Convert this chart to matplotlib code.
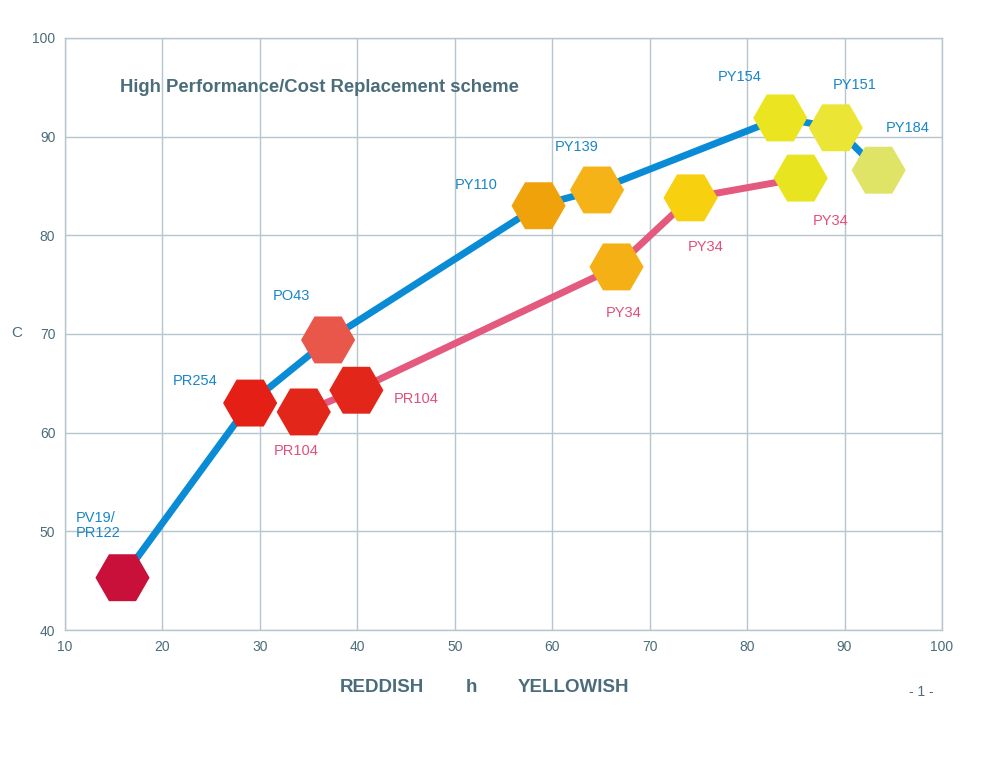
import numpy as np
import matplotlib
matplotlib.use("Agg")
import matplotlib.pyplot as plt

plt.rcParams['font.family'] = ['Liberation Sans', 'DejaVu Sans']

# blue curve (high performance pigments)
blue_names = ["PV19/\nPR122", "PR254", "PO43", "PY110", "PY139", "PY154", "PY151", "PY184"]
blue_h = [15.9, 29.0, 37.0, 58.6, 64.6, 83.4, 89.1, 93.5]
blue_c = [45.3, 63.0, 69.4, 83.0, 84.6, 91.9, 90.9, 86.6]
blue_fill = ["#c8103a", "#e42016", "#e8574a", "#f0a20a", "#f5b318", "#ebe521", "#ebe535", "#e0e466"]

# pink curve (cost replacement pigments)
pink_names = ["PR104", "PR104", "PY34", "PY34", "PY34"]
pink_h = [34.5, 39.9, 66.6, 74.2, 85.5]
pink_c = [62.1, 64.3, 76.8, 83.8, 85.8]
pink_fill = ["#e2271a", "#e2271a", "#f5b015", "#f7d010", "#e8e420"]

x_ticks = list(range(10, 101, 10))
y_ticks = list(range(40, 101, 10))

# label placement (data coords)
blue_lab_xy = [(11.1, 50.6), (21.1, 65.2), (31.3, 73.9), (50.0, 85.1),
               (60.3, 89.0), (77.0, 96.0), (88.8, 95.2), (94.2, 90.9)]
pink_lab_xy = [(31.4, 58.1), (43.7, 63.4), (65.5, 72.1), (73.9, 78.8), (86.7, 81.5)]

BLUE = "#0a8bd6"
PINK = "#e45a7e"
BLUE_TXT = "#1a86c8"
PINK_TXT = "#e2507a"
GRID = "#b7c6cc"
TXT = "#4a6d79"

fig = plt.figure(figsize=(9.94, 7.68), dpi=100)
ax = fig.add_axes([65 / 994, 1 - 630 / 768, 877 / 994, 592 / 768])

ax.plot(blue_h, blue_c, color=BLUE, lw=5, solid_capstyle="butt", zorder=2)
ax.plot(pink_h, pink_c, color=PINK, lw=5, solid_capstyle="butt", zorder=2)
ax.scatter(blue_h, blue_c, marker="H", s=39 ** 2, c=blue_fill, linewidths=0, zorder=3)
ax.scatter(pink_h, pink_c, marker="H", s=39 ** 2, c=pink_fill, linewidths=0, zorder=3)

for name, (lx, ly) in zip(blue_names, blue_lab_xy):
    ax.text(lx, ly, name, color=BLUE_TXT, fontsize=10.5, ha="left", va="center",
            linespacing=1.12, zorder=4)
for name, (lx, ly) in zip(pink_names, pink_lab_xy):
    ax.text(lx, ly, name, color=PINK_TXT, fontsize=10.5, ha="left", va="center", zorder=4)

ax.text(15.6, 95.0, "High Performance/Cost Replacement scheme", color=TXT,
        fontsize=13.3, fontweight="bold", ha="left", va="center")

ax.set_xlim(10, 100)
ax.set_ylim(40, 100)
ax.set_xticks(x_ticks)
ax.set_yticks(y_ticks)
ax.grid(True, color=GRID, lw=1)
ax.set_axisbelow(True)
for sp in ax.spines.values():
    sp.set_color(GRID)
    sp.set_linewidth(1)
ax.tick_params(length=0, colors=TXT, labelsize=10, pad=7)

fig.text(11 / 994, 1 - 333 / 768, "C", color=TXT, fontsize=11, ha="left", va="center")
fig.text(340 / 994, 1 - 687 / 768, "REDDISH", color=TXT, fontsize=13.5,
         fontweight="bold", ha="left", va="center")
fig.text(471 / 994, 1 - 687 / 768, "h", color=TXT, fontsize=13.5,
         fontweight="bold", ha="center", va="center")
fig.text(518 / 994, 1 - 687 / 768, "YELLOWISH", color=TXT, fontsize=13.5,
         fontweight="bold", ha="left", va="center")
fig.text(921 / 994, 1 - 692 / 768, "- 1 -", color=TXT, fontsize=10, ha="center", va="center")

fig.savefig("out.png", dpi=100, facecolor="white")
